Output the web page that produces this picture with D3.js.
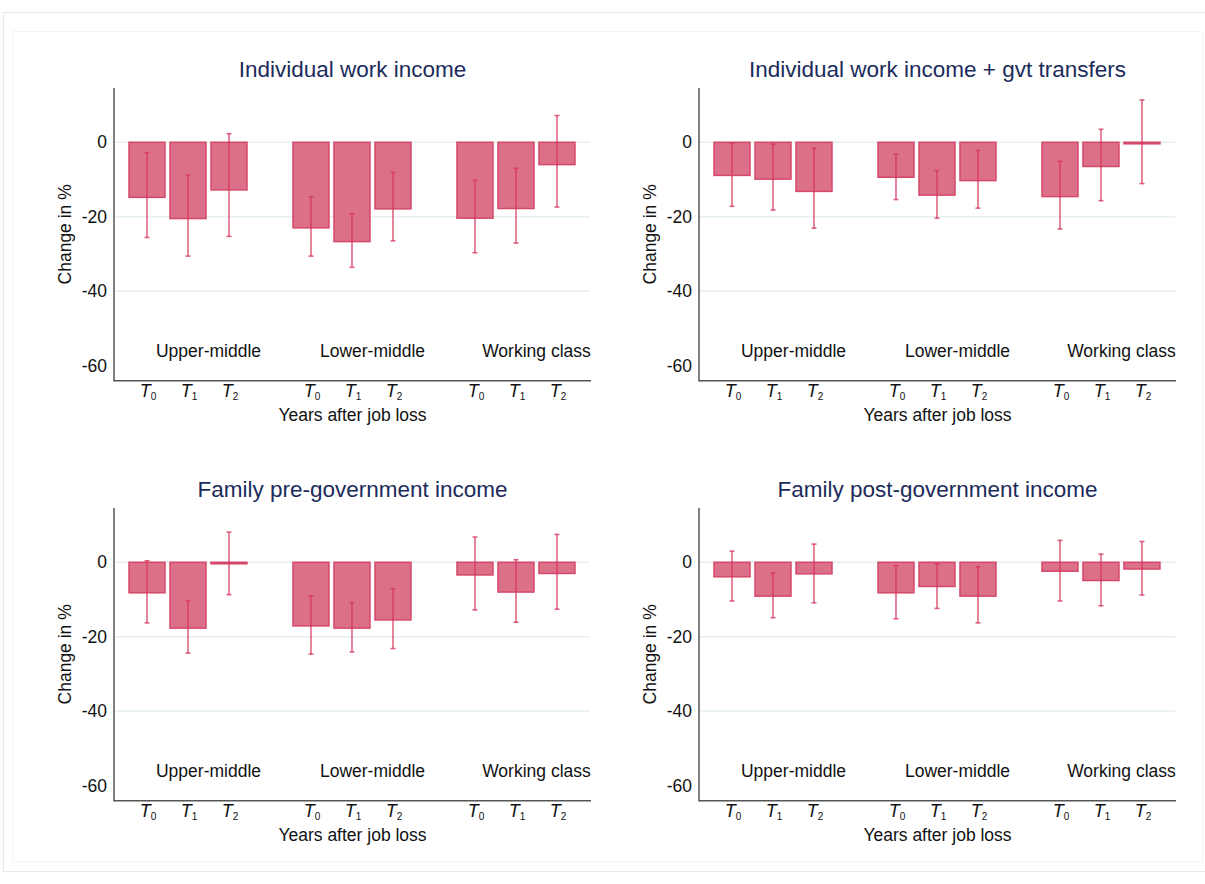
<!DOCTYPE html>
<html>
<head>
<meta charset="utf-8">
<script src="https://cdn.jsdelivr.net/npm/d3@7"></script>
<style>
  body { margin: 0; background: #fff; }
  text { font-family: "Liberation Sans", Arial, Helvetica, sans-serif; }
</style>
</head>
<body>
<svg id="graph"></svg>
<script>
// classes and periods
var groups = ["Upper-middle", "Lower-middle", "Working class"];
var periods = ["0", "1", "2"];
var yTicks = [0, -20, -40, -60];
var gridTicks = [0, -20, -40];

var titles = ["Individual work income", "Individual work income + gvt transfers",
              "Family pre-government income", "Family post-government income"];

// estimates and 95% CI (order: UM T0..T2, LM T0..T2, WC T0..T2)
var workEst = [-14.8, -20.5, -12.8, -23.0, -26.7, -17.9, -20.4, -17.8, -6.0];
var workLo  = [-25.6, -30.6, -25.3, -30.6, -33.6, -26.5, -29.7, -27.1, -17.4];
var workHi  = [-2.8, -8.8, 2.3, -14.7, -19.2, -8.1, -10.2, -7.0, 7.2];

var transEst = [-8.9, -9.9, -13.2, -9.4, -14.2, -10.3, -14.6, -6.5, -0.4];
var transLo  = [-17.2, -18.2, -23.1, -15.4, -20.4, -17.7, -23.3, -15.7, -11.1];
var transHi  = [-0.2, -0.5, -1.6, -3.2, -7.6, -2.2, -5.1, 3.5, 11.4];

var preEst = [-8.2, -17.7, -0.4, -17.1, -17.7, -15.5, -3.4, -8.0, -3.0];
var preLo  = [-16.3, -24.4, -8.7, -24.7, -24.1, -23.2, -12.8, -16.1, -12.6];
var preHi  = [0.4, -10.3, 8.1, -9.1, -10.8, -7.1, 6.8, 0.7, 7.5];

var postEst = [-3.9, -9.1, -3.1, -8.2, -6.5, -9.1, -2.4, -4.9, -1.8];
var postLo  = [-10.4, -14.9, -10.9, -15.2, -12.4, -16.3, -10.4, -11.7, -8.8];
var postHi  = [3.0, -2.9, 4.9, -0.9, -0.4, -1.2, 5.9, 2.2, 5.6];

var W = 1205, H = 884;
var svg = d3.select("#graph").attr("width", W).attr("height", H);

// faint outer frames
svg.append("rect").attr("x", 3.5).attr("y", 12.5).attr("width", 1210).attr("height", 859)
    .attr("fill", "none").attr("stroke", "#e4ebeb");
svg.append("rect").attr("x", 12.5).attr("y", 31.5).attr("width", 1190).attr("height", 830)
    .attr("fill", "none").attr("stroke", "#f3f4f4");

var barFill = "#dc7089", barStroke = "#d5486a", ciColor = "#d63359";
var fs = 17.5;

function drawPanel(idx, est, lo, hi, ox, oy) {
    var g = svg.append("g").attr("transform", "translate(" + ox + "," + oy + ")");

    var x = d3.scaleLinear().domain([-0.805, 10.83]).range([114, 591]);
    var y = d3.scaleLinear().domain([-64.1, 14.6]).range([380.7, 88]);
    var bw = x(0.878) - x(0);

    var rows = est.map(function (v, i) {
        return { slot: Math.floor(i / 3) * 4 + (i % 3), v: v, lo: lo[i], hi: hi[i], p: periods[i % 3] };
    });

    // gridlines
    g.selectAll(".grid").data(gridTicks).enter().append("line")
        .attr("x1", x.range()[0]).attr("x2", x.range()[1] - 1)
        .attr("y1", d => y(d)).attr("y2", d => y(d))
        .attr("stroke", "#e6efef").attr("stroke-width", 1.5);

    // y tick labels
    var ax = g.append("g").attr("transform", "translate(" + x.range()[0] + ",0)")
        .call(d3.axisLeft(y).tickValues(yTicks).tickSize(0).tickPadding(7).tickFormat(d => String(d)));
    ax.select(".domain").remove();
    ax.selectAll("text").attr("font-size", fs).attr("fill", "#111")
        .style("font-family", '"Liberation Sans", Arial, sans-serif');

    // bars
    g.selectAll(".bar").data(rows).enter().append("rect")
        .attr("x", d => x(d.slot) - bw / 2)
        .attr("width", bw)
        .attr("y", d => y(Math.max(0, d.v)))
        .attr("height", d => Math.max(1.5, Math.abs(y(d.v) - y(0))))
        .attr("fill", barFill)
        .attr("stroke", barStroke)
        .attr("stroke-width", 1.5);

    // error bars
    var eb = g.selectAll(".ci").data(rows).enter().append("g")
        .attr("stroke", ciColor).attr("stroke-opacity", 0.75).attr("stroke-width", 1.6);
    eb.append("line")
        .attr("x1", d => x(d.slot)).attr("x2", d => x(d.slot))
        .attr("y1", d => y(d.lo)).attr("y2", d => y(d.hi));
    eb.append("line")
        .attr("x1", d => x(d.slot) - 2.5).attr("x2", d => x(d.slot) + 2.5)
        .attr("y1", d => y(d.lo)).attr("y2", d => y(d.lo));
    eb.append("line")
        .attr("x1", d => x(d.slot) - 2.5).attr("x2", d => x(d.slot) + 2.5)
        .attr("y1", d => y(d.hi)).attr("y2", d => y(d.hi));

    // axis lines
    g.append("line").attr("x1", x.range()[0]).attr("x2", x.range()[0])
        .attr("y1", y.range()[1]).attr("y2", y.range()[0] + 0.75)
        .attr("stroke", "#555").attr("stroke-width", 1.5);
    g.append("line").attr("x1", x.range()[0]).attr("x2", x.range()[1])
        .attr("y1", y.range()[0]).attr("y2", y.range()[0])
        .attr("stroke", "#555").attr("stroke-width", 1.5);

    // class labels inside plot
    g.selectAll(".grp").data(groups).enter().append("text")
        .attr("x", (d, i) => x(i * 4 + 1.5))
        .attr("y", y(-57.6))
        .attr("text-anchor", "middle")
        .attr("font-size", fs).attr("fill", "#111")
        .text(d => d);

    // T_k tick labels
    var tl = g.selectAll(".tl").data(rows).enter().append("text")
        .attr("x", d => x(d.slot) + 1)
        .attr("y", 397)
        .attr("text-anchor", "middle")
        .attr("fill", "#111");
    tl.append("tspan").attr("font-size", 18).attr("font-style", "italic").text("T");
    tl.append("tspan").attr("font-size", 10).attr("dy", 3).attr("dx", 0).text(d => d.p);

    // x title
    g.append("text").attr("x", (x.range()[0] + x.range()[1]) / 2).attr("y", 421)
        .attr("text-anchor", "middle").attr("font-size", fs).attr("fill", "#111")
        .text("Years after job loss");

    // y title
    g.append("text")
        .attr("transform", "translate(" + 71 + "," + ((y.range()[0] + y.range()[1]) / 2) + ") rotate(-90)")
        .attr("text-anchor", "middle").attr("font-size", fs).attr("fill", "#111")
        .text("Change in %");

    // panel title
    g.append("text").attr("x", (x.range()[0] + x.range()[1]) / 2).attr("y", 77)
        .attr("text-anchor", "middle").attr("font-size", 22.5).attr("fill", "#1b2b5b")
        .text(titles[idx]);
}

drawPanel(0, workEst, workLo, workHi, 0, 0);
drawPanel(1, transEst, transLo, transHi, 585, 0);
drawPanel(2, preEst, preLo, preHi, 0, 420);
drawPanel(3, postEst, postLo, postHi, 585, 420);
</script>
</body>
</html>
